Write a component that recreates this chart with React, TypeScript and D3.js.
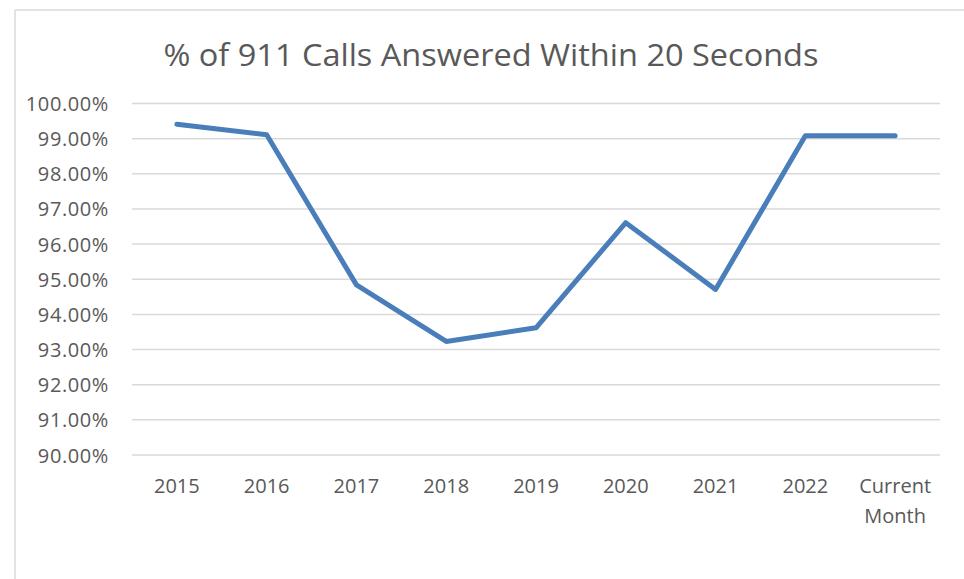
import React from "react";
import * as d3 from "d3";

const categories: string[] = ["2015", "2016", "2017", "2018", "2019", "2020", "2021", "2022", "Current Month"];
const values: number[] = [0.9941, 0.9911, 0.9484, 0.9323, 0.9362, 0.9661, 0.9471, 0.9908, 0.9908];
const yTicks: number[] = [0.9, 0.91, 0.92, 0.93, 0.94, 0.95, 0.96, 0.97, 0.98, 0.99, 1.0];
const title = "% of 911 Calls Answered Within 20 Seconds";

const W = 964;
const H = 579;
const plotLeft = 132;
const plotRight = 940;
const plotTop = 103.5;
const plotBottom = 455;

export default function App() {
  const x = d3.scaleBand<string>().domain(categories).range([plotLeft, plotRight]).padding(0);
  const y = d3.scaleLinear().domain([0.9, 1.0]).range([plotBottom, plotTop]);
  const fmt = d3.format(".2%");
  const line = d3
    .line<number>()
    .x((_, i) => (x(categories[i]) as number) + x.bandwidth() / 2)
    .y((d) => y(d));

  const textColor = "#595959";
  const font = "'Open Sans', 'Noto Sans', sans-serif";

  return (
    <svg
      width={W}
      height={H}
      viewBox={`0 0 ${W} ${H}`}
      style={{ position: "absolute", left: 0, top: 0, background: "#ffffff" }}
    >
      <rect x={0} y={0} width={W} height={H} fill="#ffffff" />
      {/* chart area border (top and left visible) */}
      <line x1={15} y1={10} x2={W} y2={10} stroke="#d9d9d9" strokeWidth={1.5} />
      <line x1={15} y1={10} x2={15} y2={H} stroke="#d9d9d9" strokeWidth={1.5} />

      <text
        x={491}
        y={66}
        textAnchor="middle"
        fontFamily={font}
        fontSize={31}
        fill={textColor}
        textLength={655}
        lengthAdjust="spacingAndGlyphs"
      >
        {title}
      </text>

      {yTicks.map((t) => (
        <g key={t}>
          <line x1={plotLeft} x2={plotRight} y1={y(t)} y2={y(t)} stroke="#d9d9d9" strokeWidth={1.5} />
          <text
            x={109}
            y={y(t) + 7.5}
            textAnchor="end"
            fontFamily={font}
            fontSize={20}
            letterSpacing={0.6}
            fill={textColor}
          >
            {fmt(t)}
          </text>
        </g>
      ))}

      {categories.map((c) => {
        const cx = (x(c) as number) + x.bandwidth() / 2;
        const words = c.split(" ");
        return (
          <text key={c} x={cx} y={493} textAnchor="middle" fontFamily={font} fontSize={20} fill={textColor}>
            {words.map((w, i) => (
              <tspan key={i} x={cx} dy={i === 0 ? 0 : 29.5}>
                {w}
              </tspan>
            ))}
          </text>
        );
      })}

      <path
        d={line(values) || ""}
        fill="none"
        stroke="#4a7ebb"
        strokeWidth={5}
        strokeLinecap="round"
        strokeLinejoin="round"
      />
    </svg>
  );
}
